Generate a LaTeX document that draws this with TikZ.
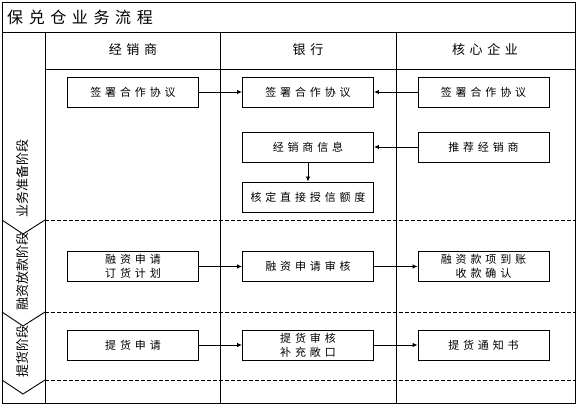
\documentclass[tikz,border=0pt]{standalone}
\usepackage{fontspec}
\usetikzlibrary{arrows.meta}
\newfontfamily\cjk[LetterSpace=35]{Noto Sans CJK SC}
\newfontfamily\cjkplain{Noto Sans CJK SC}

\tikzset{
  lane/.style={draw=black, line width=0.9pt},
  stagesep/.style={draw=black, line width=0.9pt, dash pattern=on 4pt off 2pt},
  procbox/.style={draw=black, line width=0.9pt, minimum width=131pt, minimum height=30pt,
    inner sep=0pt, align=center, font=\cjk\fontsize{11}{14}\selectfont},
  headlabel/.style={font=\cjk\fontsize{13}{15}\selectfont},
  stagelabel/.style={rotate=90, inner sep=0pt, font=\cjkplain\fontsize{13}{15}\selectfont},
  flow/.style={line width=0.9pt, -{Latex[length=5pt,width=4.5pt]}},
}

\begin{document}
\begin{tikzpicture}[x=1pt,y=-1pt]
    \useasboundingbox (0,0) rectangle (581,411);

    % frame, title and lanes
    \draw[lane] (2,2) rectangle (575,403);
    \draw[lane] (2,32) -- (575,32);
    \draw[lane] (45,32) -- (45,403);
    \draw[lane] (220,32) -- (220,403);
    \draw[lane] (396,32) -- (396,403);
    \draw[lane] (45,69) -- (575,69);
    \node[anchor=west, inner sep=0pt, font=\cjk\fontsize{16}{18}\selectfont] (title) at (7,17) {保兑仓业务流程};

    \node[headlabel] (hdealer) at (133,50) {经销商};
    \node[headlabel] (hbank) at (308,50) {银行};
    \node[headlabel] (hcore) at (485,50) {核心企业};

    % stages
    \draw[stagesep] (45,220) -- (575,220);
    \draw[stagesep] (45,312) -- (575,312);
    \draw[stagesep] (45,380) -- (575,380);
    \draw[lane] (2,220) -- (23,234) -- (45,220);
    \draw[lane] (2,312) -- (23,326) -- (45,312);
    \draw[lane] (2,380) -- (23,394) -- (45,380);

    \node[stagelabel] (prep) at (23,179) {业务准备阶段};
    \node[stagelabel] (loan) at (23,272) {融资放款阶段};
    \node[stagelabel] (pickup) at (23,352) {提货阶段};

    % preparation
    \node[procbox] (dealersign) at (133,92) {签署合作协议};
    \node[procbox] (banksign) at (308,92) {签署合作协议};
    \node[procbox] (coresign) at (483.5,92) {签署合作协议};
    \node[procbox] (bankinfo) at (308,147) {经销商信息};
    \node[procbox] (corerecommend) at (483.5,147) {推荐经销商};
    \node[procbox] (bankcredit) at (308,197) {核定直接授信额度};

    \draw[flow] (dealersign) -- (banksign);
    \draw[flow] (coresign) -- (banksign);
    \draw[flow] (corerecommend) -- (bankinfo);
    \draw[flow] (bankinfo) -- (bankcredit);

    % financing
    \node[procbox] (dealerapply) at (133,266.5) {融资申请\\订货计划};
    \node[procbox] (bankreview) at (308,266.5) {融资申请审核};
    \node[procbox] (corepay) at (483.5,266.5) {融资款项到账\\收款确认};

    \draw[flow] (dealerapply) -- (bankreview);
    \draw[flow] (bankreview) -- (corepay);

    % pick-up
    \node[procbox] (dealerpick) at (133,345) {提货申请};
    \node[procbox] (bankpick) at (308,345) {提货审核\\补充敞口};
    \node[procbox] (corenotice) at (483.5,345) {提货通知书};

    \draw[flow] (dealerpick) -- (bankpick);
    \draw[flow] (bankpick) -- (corenotice);
\end{tikzpicture}
\end{document}
